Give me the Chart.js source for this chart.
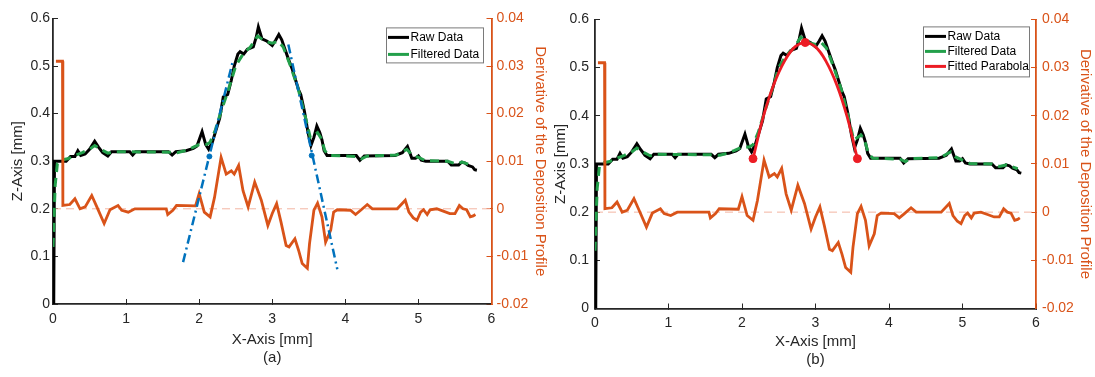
<!DOCTYPE html>
<html>
<head>
<meta charset="utf-8">
<script src="https://cdn.jsdelivr.net/npm/chart.js@4.4.0/dist/chart.umd.min.js"></script>
<style>
  html, body { margin: 0; padding: 0; background: #fff; }
  body { width: 1095px; height: 377px; position: relative; overflow: hidden; }
  canvas { position: absolute; top: 0; }
  #chartA { left: 0; }
  #chartB { left: 548px; }
</style>
</head>
<body>
<canvas id="chartA" width="552" height="377"></canvas>
<canvas id="chartB" width="547" height="377"></canvas>
<script>
// 原始高度数据 (mm)
const rawX = [0.01, 0.02, 0.18, 0.24, 0.30, 0.34, 0.38, 0.44, 0.50, 0.57, 0.62, 0.68, 0.75, 0.80, 1.05, 1.09, 1.13,
  1.58, 1.63, 1.68, 1.82, 1.92, 1.97, 2.04, 2.09, 2.13, 2.18, 2.24, 2.28, 2.33, 2.39, 2.44, 2.48, 2.53, 2.56,
  2.61, 2.66, 2.74, 2.78, 2.81, 2.86, 2.93, 3.00, 3.05, 3.09, 3.13, 3.17, 3.22, 3.27, 3.32, 3.36, 3.39, 3.44,
  3.49, 3.53, 3.57, 3.61, 3.65, 3.68, 3.71, 3.75, 4.15, 4.20, 4.26, 4.68, 4.78, 4.85, 4.91, 4.96, 5.00, 5.04,
  5.10, 5.40, 5.45, 5.55, 5.59, 5.64, 5.68, 5.74, 5.77, 5.80]
const rawZ = [0.0, 0.30, 0.30, 0.31, 0.31, 0.322, 0.312, 0.315, 0.325, 0.342, 0.33, 0.318, 0.311, 0.32, 0.32, 0.313, 0.32,
  0.32, 0.313, 0.32, 0.322, 0.327, 0.332, 0.362, 0.335, 0.325, 0.34, 0.37, 0.39, 0.435, 0.44, 0.47, 0.50, 0.525, 0.53,
  0.525, 0.535, 0.54, 0.56, 0.582, 0.557, 0.552, 0.543, 0.555, 0.566, 0.555, 0.537, 0.515, 0.495, 0.47, 0.45, 0.44, 0.405,
  0.36, 0.333, 0.35, 0.374, 0.36, 0.345, 0.322, 0.312, 0.312, 0.302, 0.311, 0.312, 0.318, 0.331, 0.306, 0.306, 0.311, 0.302,
  0.300, 0.300, 0.292, 0.292, 0.298, 0.296, 0.291, 0.288, 0.282, 0.281]

// 滤波后数据
const filtX = [0.0, 0.03, 0.06, 0.10, 0.20, 0.30, 0.40, 0.50, 0.57, 0.65, 0.75, 0.85, 1.60, 1.70, 1.80, 1.90, 2.00, 2.10,
  2.15, 2.22, 2.30, 2.40, 2.50, 2.60, 2.70, 2.80, 2.90, 3.00, 3.08, 3.15, 3.25, 3.35, 3.45, 3.52, 3.57, 3.62, 3.67,
  3.72, 3.78, 4.15, 4.22, 4.30, 4.70, 4.78, 4.84, 4.90, 5.00, 5.10, 5.40, 5.50, 5.60, 5.70, 5.75]
const filtZ = [0.12, 0.25, 0.295, 0.302, 0.305, 0.312, 0.318, 0.325, 0.333, 0.325, 0.317, 0.32, 0.319, 0.318, 0.322, 0.328, 0.335, 0.335,
  0.34, 0.365, 0.405, 0.45, 0.50, 0.525, 0.54, 0.563, 0.552, 0.548, 0.552, 0.54, 0.50, 0.455, 0.395, 0.35, 0.355, 0.36, 0.348,
  0.322, 0.312, 0.31, 0.305, 0.311, 0.313, 0.32, 0.325, 0.315, 0.308, 0.301, 0.30, 0.295, 0.298, 0.293, 0.29]

// 沉积轮廓导数
const derivX = [0.04, 0.13, 0.135, 0.23, 0.30, 0.37, 0.44, 0.53, 0.60, 0.70, 0.78, 0.89, 0.94, 1.03, 1.12, 1.55, 1.57, 1.64,
  1.69, 1.95, 2.00, 2.07, 2.15, 2.21, 2.30, 2.37, 2.44, 2.48, 2.54, 2.60, 2.67, 2.76, 2.85, 2.94, 3.00, 3.06, 3.12, 3.19,
  3.23, 3.31, 3.36, 3.41, 3.48, 3.51, 3.57, 3.62, 3.68, 3.73, 3.80, 3.84, 3.89, 4.07, 4.14, 4.21, 4.30, 4.37, 4.71, 4.82,
  4.87, 4.93, 4.98, 5.03, 5.07, 5.12, 5.16, 5.25, 5.34, 5.43, 5.50, 5.56, 5.61, 5.66, 5.71, 5.75, 5.78]
const derivD = [0.031, 0.031, 0.0007, 0.0009, 0.0021, 0.0, 0.0004, 0.0028, 0.0004, -0.0031, -0.0002, 0.0007, -0.0003, -0.0007, 0.0, 0.0, -0.0012, -0.0003,
  0.0007, 0.0006, 0.0032, -0.0007, -0.0017, 0.0024, 0.0108, 0.0073, 0.008, 0.0073, 0.0091, 0.0038, 0.0004, 0.0056, 0.0018, -0.0035, -0.001, 0.0011, -0.0028, -0.0077,
  -0.008, -0.0063, -0.0087, -0.0115, -0.0125, -0.0073, -0.0003, 0.0012, -0.0017, -0.007, -0.0045, -0.0007, -0.0002, -0.0003, -0.0012, -0.0003, 0.0009, 0.0, 0.0, 0.0018,
  -0.0007, -0.0019, -0.0024, -0.0007, -0.0002, -0.0012, -0.0002, 0.0, -0.0005, -0.001, -0.001, 0.0007, 0.0, -0.0002, -0.0017, -0.0015, -0.0012]

const zeroX = [0, 6]
const zeroD = [0, 0]

// (a) 切线
const tanLeftX = [1.78, 2.46]
const tanLeftZ = [0.088, 0.51]
const tanRightX = [3.22, 3.89]
const tanRightZ = [0.545, 0.073]
const tanPtX = [2.14, 3.54]
const tanPtZ = [0.31, 0.312]

// (b) 拟合抛物线
const parX = [2.15, 2.29, 2.43, 2.58, 2.72, 2.86, 3.00, 3.14, 3.29, 3.43, 3.57]
const parZ = [0.311, 0.398, 0.464, 0.514, 0.543, 0.552, 0.543, 0.514, 0.464, 0.398, 0.311]
const parPtX = [2.15, 2.86, 3.57]
const parPtZ = [0.311, 0.552, 0.311]

const AXIS = '#262626'
const ORANGE = '#D95319'
const GREEN = '#23a04b'
const BLUE = '#0072BD'
const RED = '#ec1c24'
const FONT = '"Liberation Sans", Arial, sans-serif'

const pts = (xs, ys) => xs.map((x, i) => ({ x, y: ys[i] }))

/**
 * 图内图例（带边框）
 */
const boxLegend = {
  id: 'boxLegend',
  afterDatasetsDraw(chart, args, opts) {
    if (!opts.items) return
    const { ctx, chartArea } = chart
    const x = chartArea.right - opts.right - opts.width
    const y = chartArea.top + opts.top
    ctx.save()
    ctx.fillStyle = '#fff'
    ctx.fillRect(x, y, opts.width, opts.height)
    ctx.strokeStyle = '#7a7a7a'
    ctx.lineWidth = 1
    ctx.strokeRect(x + 0.5, y + 0.5, opts.width, opts.height)
    ctx.font = '12px ' + FONT
    ctx.textBaseline = 'middle'
    opts.items.forEach((it, i) => {
      const ry = y + opts.firstRow + i * opts.rowGap
      ctx.strokeStyle = it.color
      ctx.lineWidth = 3
      ctx.beginPath()
      ctx.moveTo(x + 2, ry)
      ctx.lineTo(x + 23, ry)
      ctx.stroke()
      ctx.fillStyle = '#000'
      ctx.fillText(it.label, x + 24.5, ry)
    })
    ctx.restore()
  }
}

function baseDatasets() {
  return [
    {
      label: 'Derivative', data: pts(derivX, derivD), yAxisID: 'y2',
      borderColor: ORANGE, borderWidth: 2.8, pointRadius: 0, order: 4
    },
    {
      label: 'Filtered Data', data: pts(filtX, filtZ), yAxisID: 'y',
      borderColor: GREEN, borderWidth: 3, borderDash: [9, 6], pointRadius: 0, order: 5
    },
    {
      label: 'Raw Data', data: pts(rawX, rawZ), yAxisID: 'y',
      borderColor: '#000', borderWidth: 3, pointRadius: 0, order: 6
    },
    {
      label: 'Zero', data: pts(zeroX, zeroD), yAxisID: 'y2',
      borderColor: '#f3b4a2', borderWidth: 1, borderDash: [8, 5], pointRadius: 0, order: 7
    }
  ]
}

function makeChart(canvasId, p, extraSets, legend) {
  const tickFont = { family: FONT, size: 14 }
  const titleFont = { family: FONT, size: 15, lineHeight: 1.2 }
  const fmt = v => String(Number(v.toFixed(2)))

  return new Chart(document.getElementById(canvasId), {
    type: 'line',
    data: { datasets: extraSets.concat(baseDatasets()) },
    options: {
      responsive: false,
      devicePixelRatio: 1,
      animation: false,
      layout: { padding: { top: p.top, left: 0, right: 0, bottom: 0 } },
      plugins: {
        legend: { display: false },
        tooltip: { enabled: false },
        boxLegend: legend
      },
      elements: { line: { tension: 0 } },
      scales: {
        x: {
          type: 'linear', position: 'bottom', min: 0, max: 6,
          afterFit: s => { s.height = p.bottomH },
          grid: { drawOnChartArea: false, tickLength: -5, color: AXIS, lineWidth: 1 },
          border: { color: AXIS, width: 1.8 },
          ticks: { stepSize: 1, color: AXIS, font: tickFont, padding: p.xTickPad, maxRotation: 0, autoSkip: false },
          title: { display: true, text: ['X-Axis [mm]', p.tag], color: AXIS, font: titleFont, padding: { top: 0, bottom: p.xTitlePad } }
        },
        y: {
          type: 'linear', position: 'left', min: 0, max: 0.6,
          afterFit: s => { s.width = p.leftW },
          grid: { drawOnChartArea: false, tickLength: -5, color: AXIS, lineWidth: 1 },
          border: { color: AXIS, width: 1.8 },
          ticks: { stepSize: 0.1, color: AXIS, font: tickFont, padding: p.yTickPad, callback: fmt },
          title: { display: true, text: 'Z-Axis [mm]', color: AXIS, font: titleFont, padding: { top: p.yTitlePad, bottom: 0 } }
        },
        y2: {
          type: 'linear', position: 'right', min: -0.02, max: 0.04,
          afterFit: s => { s.width = p.rightW },
          grid: { drawOnChartArea: false, tickLength: -5, color: ORANGE, lineWidth: 1 },
          border: { color: ORANGE, width: 1.8 },
          ticks: { stepSize: 0.01, color: ORANGE, font: tickFont, padding: p.y2TickPad, callback: fmt },
          title: { display: true, text: 'Derivative of the Deposition Profile', color: ORANGE, font: titleFont, padding: { top: p.y2TitlePad, bottom: 0 } }
        }
      }
    },
    plugins: [boxLegend]
  })
}

// (a) 切线法
makeChart('chartA', {
  top: 17, bottomH: 73, leftW: 53, rightW: 60.5, tag: '(a)',
  xTickPad: 12, xTitlePad: 10, yTickPad: 8, y2TickPad: 10, yTitlePad: 9, y2TitlePad: 3
}, [
  {
    label: 'Tangent points', data: pts(tanPtX, tanPtZ), yAxisID: 'y', showLine: false,
    pointRadius: 2.5, pointBackgroundColor: BLUE, pointBorderColor: BLUE, order: 1
  },
  {
    label: 'Tangent L', data: pts(tanLeftX, tanLeftZ), yAxisID: 'y',
    borderColor: BLUE, borderWidth: 2.5, borderDash: [9, 4, 2, 4], pointRadius: 0, order: 2
  },
  {
    label: 'Tangent R', data: pts(tanRightX, tanRightZ), yAxisID: 'y',
    borderColor: BLUE, borderWidth: 2.5, borderDash: [9, 4, 2, 4], pointRadius: 0, order: 2
  }
], {
  right: 8.5, top: 9, width: 97, height: 35, firstRow: 10, rowGap: 17,
  items: [{ label: 'Raw Data', color: '#000' }, { label: 'Filtered Data', color: GREEN }]
})

// (b) 抛物线拟合
makeChart('chartB', {
  top: 13, bottomH: 68.5, leftW: 47, rightW: 59, tag: '(b)',
  xTickPad: 11, xTitlePad: 8, yTickPad: 11, y2TickPad: 11, yTitlePad: 3.5, y2TitlePad: 1
}, [
  {
    label: 'Parabola points', data: pts(parPtX, parPtZ), yAxisID: 'y', showLine: false,
    pointRadius: 4, pointBackgroundColor: RED, pointBorderColor: RED, order: 1
  },
  {
    label: 'Fitted Parabola', data: pts(parX, parZ), yAxisID: 'y',
    borderColor: RED, borderWidth: 2.8, pointRadius: 0, tension: 0.4, order: 2
  }
], {
  right: 7, top: 7, width: 106, height: 50, firstRow: 10, rowGap: 15,
  items: [{ label: 'Raw Data', color: '#000' }, { label: 'Filtered Data', color: GREEN }, { label: 'Fitted Parabola', color: RED }]
})
</script>
</body>
</html>
